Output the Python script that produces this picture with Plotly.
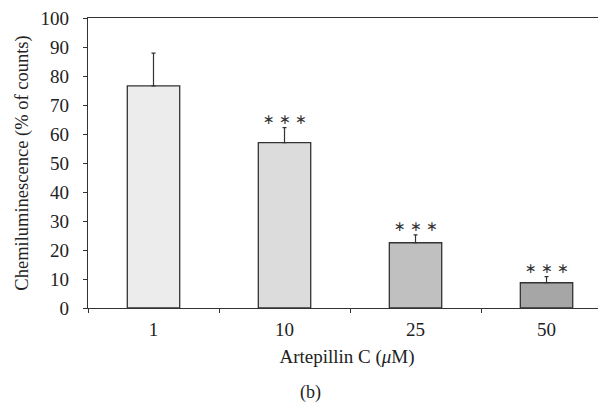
import plotly.graph_objects as go

categories = ["1", "10", "25", "50"]
values = [76.6, 57.0, 22.5, 8.7]
errors = [11.3, 5.2, 2.7, 2.1]
stars = ["", "∗ ∗ ∗", "∗ ∗ ∗", "∗ ∗ ∗"]
bar_colors = ["#ececec", "#dcdcdc", "#c0c0c0", "#a6a6a6"]
y_ticks = [0, 10, 20, 30, 40, 50, 60, 70, 80, 90, 100]

FONT = "Liberation Serif"

fig = go.Figure()
fig.add_trace(go.Bar(
    x=categories, y=values, width=0.4,
    marker=dict(color=bar_colors, line=dict(color="#333333", width=1.3)),
    error_y=dict(type="data", array=errors, arrayminus=[0]*len(errors), symmetric=False,
                 color="#333333", thickness=1.2, width=2),
    showlegend=False,
))

for i, (v, e, s) in enumerate(zip(values, errors, stars)):
    if s:
        fig.add_annotation(x=i, y=v + e, text=s, showarrow=False, yanchor="bottom",
                           yshift=-1, font=dict(family="DejaVu Sans", size=14, color="#333333"))

fig.add_annotation(xref="paper", yref="paper", x=0.4286, y=-0.293, yanchor="middle",
                   text="(b)", showarrow=False, font=dict(family=FONT, size=18, color="#222"))

# the page body has an 8px default margin; compensate so the plot sits as in the reference
fig.update_layout(
    width=598, height=404,
    margin=dict(l=80, r=0, t=10, b=104),
    plot_bgcolor="white", paper_bgcolor="white",
    font=dict(family=FONT, size=18, color="#222222"),
)
fig.update_xaxes(
    type="category", range=[-0.5, 3.454], automargin=False,
    showline=True, linecolor="#333333", linewidth=1.3, mirror=True,
    ticks="outside", tickson="boundaries", ticklen=4, tickcolor="#333333",
    showgrid=False, tickfont=dict(size=19), ticklabelstandoff=4,
    title=dict(text="Artepillin C (<i>μ</i>M)", standoff=10, font=dict(size=19)),
)
fig.update_yaxes(
    range=[0, 100], tickvals=y_ticks, automargin=False, ticklabeloverflow="allow",
    showline=True, linecolor="#333333", linewidth=1.3,
    ticks="outside", ticklen=4, tickcolor="#333333",
    showgrid=False, zeroline=False, tickfont=dict(size=19), ticklabelstandoff=10,
    title=dict(text="Chemiluminescence (% of counts)", standoff=7, font=dict(size=18.5)),
)

fig.write_html("out.html")
